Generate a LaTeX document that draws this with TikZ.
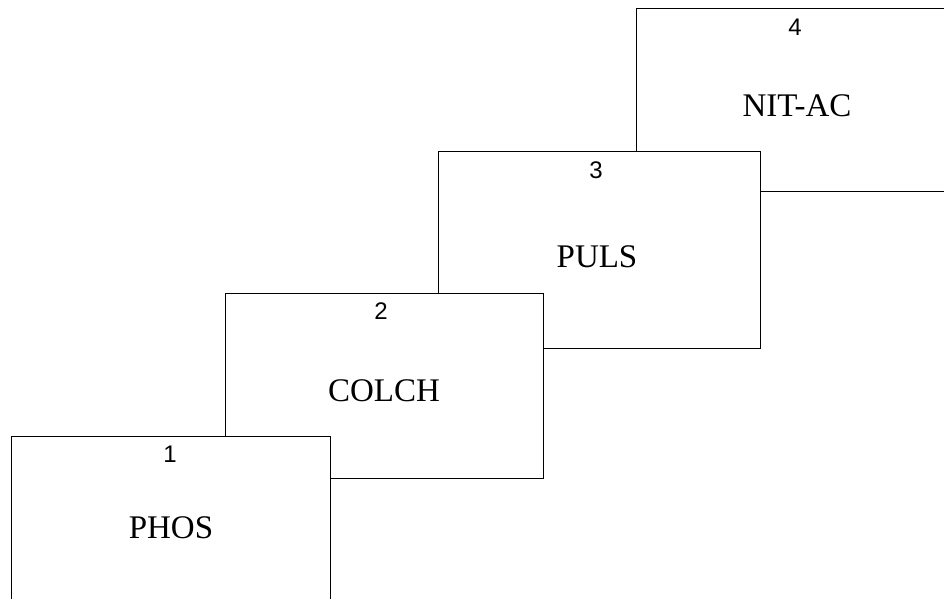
\documentclass[tikz,border=0pt]{standalone}
\usepackage{fontspec}
\setmainfont{Liberation Serif}
\newfontfamily\numfont{Liberation Sans}
\begin{document}
\begin{tikzpicture}[x=1pt,y=-1pt,
  stagebox/.style={draw=black,fill=white,line width=1pt,rectangle,inner sep=0pt,outer sep=0pt,anchor=north west},
  numlabel/.style={font=\numfont\fontsize{24}{28}\selectfont,inner sep=0pt,anchor=center},
  namelabel/.style={font=\fontsize{33}{38}\selectfont,inner sep=0pt,anchor=center}]
\useasboundingbox (0,0) rectangle (944,599);
\clip (0,0) rectangle (944,599);
\node[stagebox,minimum width=322pt,minimum height=182pt] (b4) at (636,9) {};
\node[stagebox,minimum width=322pt,minimum height=197pt] (b3) at (438,151) {};
\node[stagebox,minimum width=318pt,minimum height=185pt] (b2) at (225,293) {};
\node[stagebox,minimum width=319pt,minimum height=185pt] (b1) at (11,436) {};
\node[numlabel] (n4) at (795,27) {4};
\node[numlabel] (n3) at (596,170) {3};
\node[numlabel] (n2) at (381,311) {2};
\node[numlabel] (n1) at (170,454) {1};
\node[namelabel] (t4) at (797,106) {NIT-AC};
\node[namelabel] (t3) at (597,257) {PULS};
\node[namelabel] (t2) at (384,391) {COLCH};
\node[namelabel] (t1) at (171,528) {PHOS};
\end{tikzpicture}
\end{document}
